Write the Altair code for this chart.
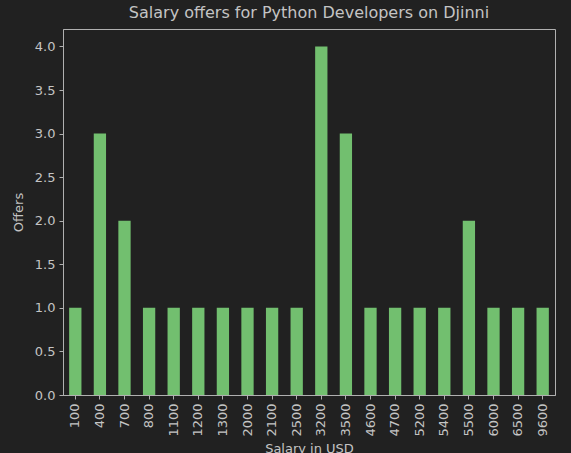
import altair as alt
import pandas as pd

salaries = ["100", "400", "700", "800", "1100", "1200", "1300", "2000", "2100", "2500",
            "3200", "3500", "4600", "4700", "5200", "5400", "5500", "6000", "6500", "9600"]
offers = [1, 3, 2, 1, 1, 1, 1, 1, 1, 1, 4, 3, 1, 1, 1, 1, 2, 1, 1, 1]

df = pd.DataFrame({"salary": salaries, "offers": offers})

FG = "#c4c4c4"
BG = "#212121"
FONT = "DejaVu Sans"

chart = alt.Chart(df).mark_bar(color="#72bf6f").encode(
    x=alt.X("salary:N", sort=salaries, title="Salary in USD",
            scale=alt.Scale(paddingInner=0.5, paddingOuter=0.25),
            axis=alt.Axis(labelAngle=270, labelAlign="right", labelBaseline="middle",
                          labelPadding=4, tickSize=4, titlePadding=6)),
    y=alt.Y("offers:Q", title="Offers",
            scale=alt.Scale(domain=[0, 4.2], nice=False),
            axis=alt.Axis(values=[0, 0.5, 1, 1.5, 2, 2.5, 3, 3.5, 4], format=".1f",
                          grid=False, tickSize=4, labelPadding=4, titlePadding=9)),
).properties(
    width=492, height=366,
    title=alt.TitleParams("Salary offers for Python Developers on Djinni",
                          fontSize=16, font=FONT, color=FG, fontWeight="normal", offset=8),
    background=BG,
    padding={"left": 63, "top": 29, "right": 16, "bottom": 58},
    autosize=alt.AutoSizeParams(type="none"),
).configure_view(
    stroke="#b0b0b0", strokeWidth=1, fill=BG
).configure_axis(
    labelColor=FG, titleColor=FG, labelFont=FONT, titleFont=FONT,
    labelFontSize=13, titleFontSize=13, titleFontWeight="normal",
    domainColor="#b0b0b0", tickColor="#b0b0b0"
)

chart.save("out.html", embed_options={"renderer": "svg", "actions": False})
